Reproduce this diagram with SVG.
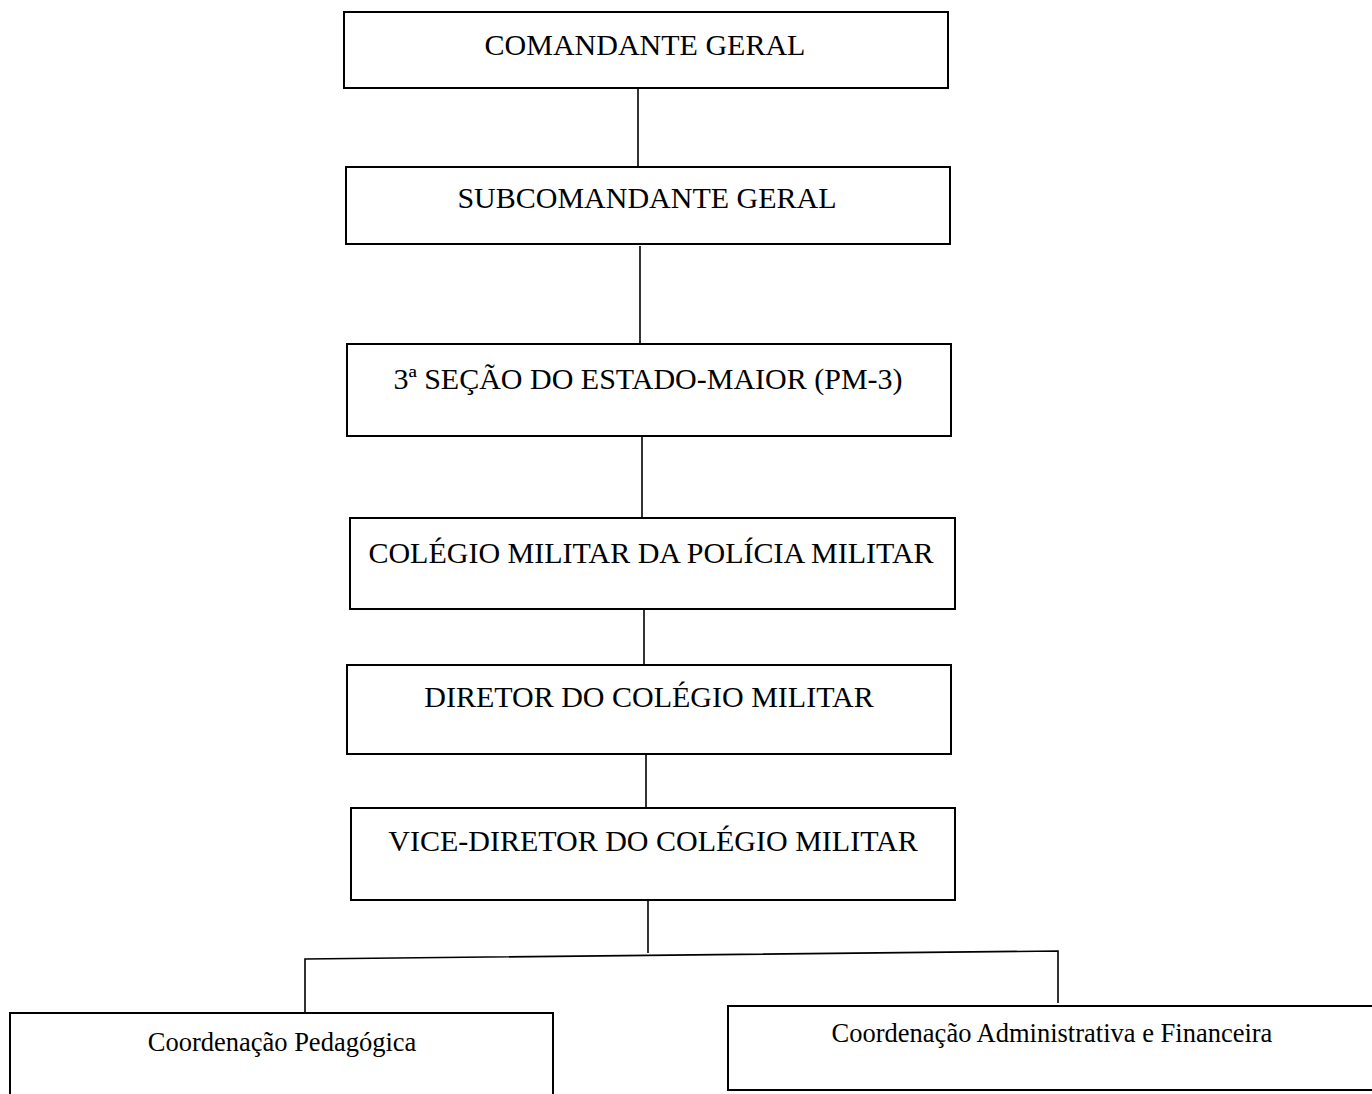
<svg xmlns="http://www.w3.org/2000/svg" width="1372" height="1094" viewBox="0 0 1372 1094">
<style>
.box{fill:#fff;stroke:#000;stroke-width:2}
.t{font-family:"Liberation Serif","Times New Roman",serif;font-size:30px;fill:#000;text-anchor:middle}
.s{font-family:"Liberation Serif","Times New Roman",serif;font-size:26.5px;fill:#000;text-anchor:middle}
.c{stroke:#000;stroke-width:1.6;fill:none}
</style>
<rect width="1372" height="1094" fill="#fff"/>
<g id="connectors">
<line class="c" x1="638" y1="88" x2="638" y2="167"/>
<line class="c" x1="640" y1="246" x2="640" y2="344"/>
<line class="c" x1="642" y1="436" x2="642" y2="518"/>
<line class="c" x1="644" y1="609" x2="644" y2="665"/>
<line class="c" x1="646" y1="754" x2="646" y2="808"/>
<line class="c" x1="648" y1="900" x2="648" y2="953"/>
<polyline class="c" points="305,1013 305,959 1058,951 1058,1003"/>
</g>
<g id="n1"><rect class="box" x="344" y="12" width="604" height="76"/><text class="t" x="645" y="55">COMANDANTE GERAL</text></g>
<g id="n2"><rect class="box" x="346" y="167" width="604" height="77"/><text class="t" x="647" y="208">SUBCOMANDANTE GERAL</text></g>
<g id="n3"><rect class="box" x="347" y="344" width="604" height="92"/><text class="t" x="648" y="389">3ª SEÇÃO DO ESTADO-MAIOR (PM-3)</text></g>
<g id="n4"><rect class="box" x="350" y="518" width="605" height="91"/><text class="t" x="651" y="563">COLÉGIO MILITAR DA POLÍCIA MILITAR</text></g>
<g id="n5"><rect class="box" x="347" y="665" width="604" height="89"/><text class="t" x="649" y="707">DIRETOR DO COLÉGIO MILITAR</text></g>
<g id="n6"><rect class="box" x="351" y="808" width="604" height="92"/><text class="t" x="653" y="851">VICE-DIRETOR DO COLÉGIO MILITAR</text></g>
<g id="n7"><rect class="box" x="10" y="1013" width="543" height="90"/><text class="s" x="282" y="1051">Coordenação Pedagógica</text></g>
<g id="n8"><rect class="box" x="728" y="1006" width="660" height="84"/><text class="s" x="1052" y="1042">Coordenação Administrativa e Financeira</text></g>
</svg>
